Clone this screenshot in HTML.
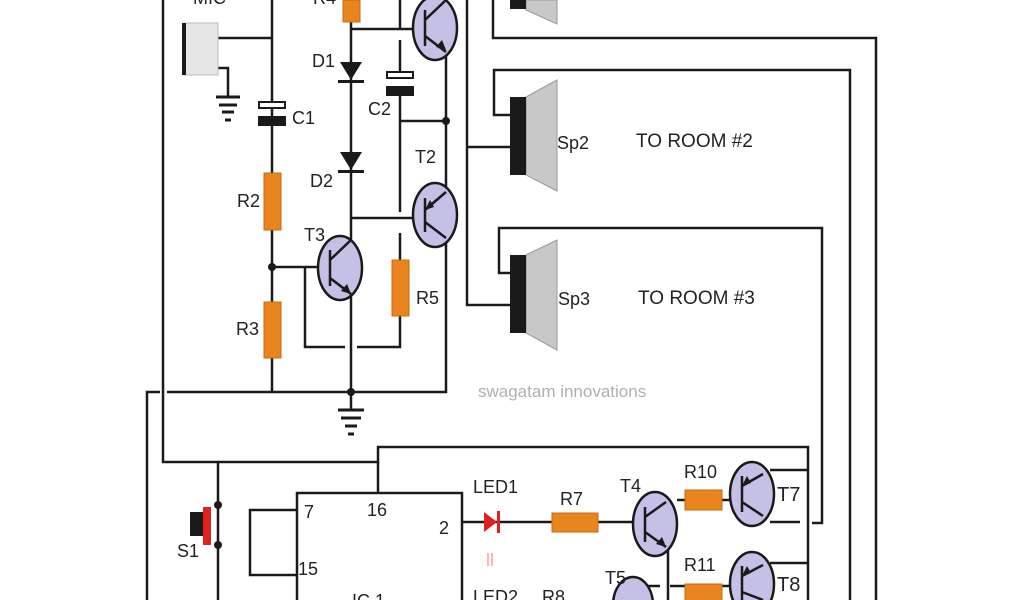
<!DOCTYPE html>
<html><head><style>
html,body{margin:0;padding:0;background:#fff;width:1024px;height:600px;overflow:hidden}
svg{display:block;overflow:hidden}
text{font-family:"Liberation Sans",sans-serif;font-size:18px;fill:#222}
</style></head><body>
<svg width="1024" height="600" viewBox="0 0 1024 600">
<g stroke="#1a1a1a" stroke-width="2.5" fill="none">
<path d="M163 0V462H378V447H808V600"/>
<path d="M378 462V493"/>
<path d="M147 600V392H160M167 392H446V0"/>
<path d="M218 462V600"/>
<path d="M218 38H272M272 0V392"/>
<path d="M218 68H228V97"/>
<path d="M216 97H240M219 105H237M222 112H234M225 120H231" stroke-width="3"/>
<path d="M351 0V392"/>
<path d="M351 29H415"/>
<path d="M351 218H415"/>
<path d="M272 267H318"/>
<path d="M305 267V347H345M357 347H400V316"/>
<path d="M400 260V233M400 212V95M400 73V40M400 30V0"/>
<path d="M400 121H446"/>
<path d="M351 392V410"/>
<path d="M338 410H364M341 418H361M345 426H357M348 434H354" stroke-width="3"/>
<path d="M467 0V305H510M467 147H510"/>
<path d="M493 0V38H876V600"/>
<path d="M512 115H494V70H850V600"/>
<path d="M512 273H499V228H822V523H812"/>
<rect x="297" y="493" width="165" height="120"/>
<path d="M297 510H250V575H297"/>
<path d="M462 522H640"/>
<path d="M677 500H735M668 545V600"/>
<path d="M770 470H808M770 522H800"/>
<path d="M770 563H808M648 586H660M670 586H735"/>
</g>
<g fill="#1a1a1a">
<circle cx="272" cy="267" r="4"/><circle cx="351" cy="392" r="4"/><circle cx="446" cy="121" r="4"/>
<circle cx="218" cy="505" r="4"/><circle cx="218" cy="545" r="4"/>
</g>
<g stroke="#1a1a1a" stroke-width="2">
<rect x="259" y="102" width="26" height="6" fill="#fff"/>
<rect x="259" y="117" width="26" height="8" fill="#1a1a1a"/>
<rect x="387" y="72" width="26" height="6" fill="#fff"/>
<rect x="387" y="87" width="26" height="8" fill="#1a1a1a"/>
</g>
<g fill="#1a1a1a">
<polygon points="340,62 362,62 351,80"/><rect x="338" y="80" width="26" height="3"/>
<polygon points="340,152 362,152 351,170"/><rect x="338" y="170" width="26" height="3"/>
</g>
<g fill="#e8851f" stroke="#c46a10" stroke-width="1">
<rect x="343" y="0" width="17" height="22"/>
<rect x="264" y="173" width="17" height="57"/>
<rect x="264" y="302" width="17" height="56"/>
<rect x="392" y="260" width="17" height="56"/>
<rect x="552" y="513" width="46" height="19"/>
<rect x="685" y="490" width="37" height="20"/>
<rect x="685" y="584" width="37" height="20"/>
</g>
<rect x="185" y="23" width="33" height="52" fill="#e6e6e6" stroke="#bbb"/>
<rect x="182" y="23" width="4" height="52" fill="#1a1a1a"/>
<g fill="#c4c0e6" stroke="#1a1a1a" stroke-width="2.5">
<ellipse cx="435" cy="28" rx="22" ry="32"/>
<ellipse cx="435" cy="215" rx="22" ry="32"/>
<ellipse cx="340" cy="268" rx="22" ry="32"/>
<ellipse cx="655" cy="524" rx="22" ry="32"/>
<ellipse cx="752" cy="494" rx="22" ry="32"/>
<ellipse cx="752" cy="584" rx="22" ry="32"/>
<ellipse cx="633" cy="605" rx="20" ry="28"/>
</g>
<g stroke="#1a1a1a" stroke-width="2.5" fill="none">
<path d="M425 10V46M425 20L446 0M425 36L446 52"/>
<path d="M425 198V232M425 210L446 192M425 222L446 238"/>
<path d="M330 250V286M330 260L351 240M330 278L351 294"/>
<path d="M645 507V542M645 517L666 502M645 532L666 547"/>
<path d="M742 476V512M742 486L763 474M742 502L763 516"/>
<path d="M742 566V600M742 576L763 565M742 592L763 600"/>
</g>
<g fill="#1a1a1a">
<polygon points="446,50 436,47 442,40"/>
<polygon points="351,294 341,291 347,284"/>
<polygon points="666,547 656,544 662,537"/>
<polygon points="425,210 430,200 434,207"/>
<polygon points="742,486 747,476 751,483"/>
<polygon points="742,576 747,566 751,573"/>
</g>
<polygon points="484,512 484,532 497,522" fill="#e02020"/>
<rect x="497" y="511" width="3" height="22" fill="#e02020"/>
<path d="M488 553V566M492 553V566" stroke="#e87070" stroke-width="1"/>
<rect x="190" y="512" width="13" height="24" fill="#1a1a1a"/>
<rect x="203" y="507" width="8" height="38" fill="#d22"/>
<g>
<polygon points="526,0 557,0 557,24 526,10" fill="#c8c8c8" stroke="#999"/>
<rect x="510" y="0" width="16" height="9" fill="#1a1a1a"/>
<polygon points="526,97 557,80 557,191 526,175" fill="#c8c8c8" stroke="#999"/>
<rect x="510" y="97" width="16" height="78" fill="#1a1a1a"/>
<polygon points="526,255 557,240 557,350 526,333" fill="#c8c8c8" stroke="#999"/>
<rect x="510" y="255" width="16" height="78" fill="#1a1a1a"/>
</g>
<text x="193" y="4">MIC</text><text x="313" y="4">R4</text>
<text x="312" y="67">D1</text><text x="310" y="187">D2</text>
<text x="292" y="124">C1</text><text x="368" y="115">C2</text>
<text x="237" y="207">R2</text><text x="236" y="335">R3</text>
<text x="304" y="241">T3</text><text x="415" y="163">T2</text>
<text x="416" y="304">R5</text>
<text x="557" y="149">Sp2</text><text x="558" y="305">Sp3</text>
<text x="636" y="147" style="font-size:19px">TO ROOM #2</text><text x="638" y="304" style="font-size:19px">TO ROOM #3</text>
<text x="478" y="397" style="fill:#b0b0b0;font-size:17px">swagatam innovations</text>
<text x="473" y="493">LED1</text><text x="560" y="505">R7</text>
<text x="620" y="492">T4</text><text x="684" y="478">R10</text>
<text x="777" y="501" style="font-size:20px">T7</text>
<text x="684" y="571">R11</text><text x="605" y="584">T5</text>
<text x="777" y="591" style="font-size:20px">T8</text>
<text x="473" y="603">LED2</text><text x="542" y="603">R8</text>
<text x="304" y="518">7</text><text x="367" y="516">16</text>
<text x="439" y="534">2</text><text x="298" y="575">15</text>
<text x="352" y="607">IC 1</text>
<text x="177" y="557">S1</text>
</svg>
</body></html>
